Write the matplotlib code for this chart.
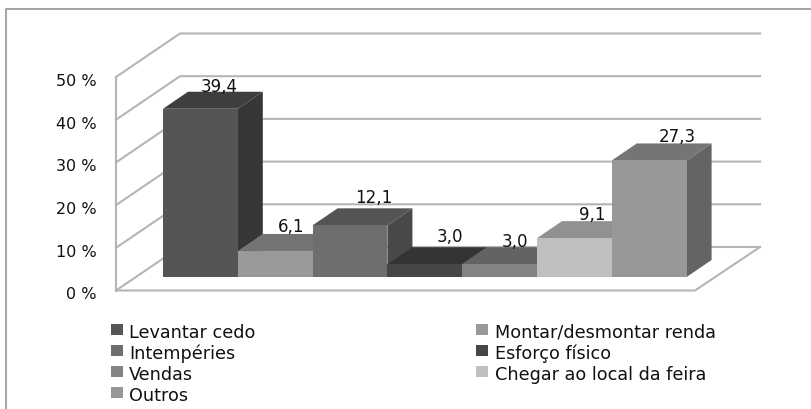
import matplotlib
matplotlib.use("Agg")
import matplotlib.pyplot as plt
from matplotlib.patches import Polygon, Rectangle

W, H = 812, 410

categories = ["Levantar cedo", "Montar/desmontar renda", "Intempéries", "Esforço físico",
              "Vendas", "Chegar ao local da feira", "Outros"]
values = [39.4, 6.1, 12.1, 3.0, 3.0, 9.1, 27.3]
value_labels = ["39,4", "6,1", "12,1", "3,0", "3,0", "9,1", "27,3"]
ticks = [0, 10, 20, 30, 40, 50]
tick_labels = ["0 %", "10 %", "20 %", "30 %", "40 %", "50 %"]

front = ["#555555", "#999999", "#6e6e6e", "#464646", "#838383", "#bfbfbf", "#989898"]
top = ["#3e3e3e", "#747474", "#545454", "#343434", "#636363", "#919191", "#757575"]
side = ["#373737", "#686868", "#494949", "#2e2e2e", "#595959", "#828282", "#646464"]

# deslocamento dos rotulos em pixels, a partir da barra
label_dx = [56, 53, 61, 63, 53, 55, 66]
label_dy = [6, 8, 11, 11, 6, 7, 7]

GRID = "#b5b5b5"
TXT = "#111111"

# eixos: x = indice da barra, y = valor em %
X0, BAR_W = 163, 74.8
Y0, PX_PER = 278, 4.27

fig = plt.figure(figsize=(W / 100, H / 100), dpi=100)
ax = fig.add_axes([0, 0, 1, 1])
ax.set_xlim(-X0 / BAR_W, (W - X0) / BAR_W)
ax.set_ylim((Y0 - H) / PX_PER, Y0 / PX_PER)
ax.axis("off")

# profundidade das barras e do piso, em unidades dos dados
dx, dy = 25 / BAR_W, 17 / PX_PER
wx0, wx1 = (116 - X0) / BAR_W, (695 - X0) / BAR_W
bx0, bx1 = (180 - X0) / BAR_W, (760 - X0) / BAR_W
f0, b0 = (Y0 - 291.5) / PX_PER, (Y0 - 248) / PX_PER

# moldura
ax.add_patch(Rectangle(((5.5 - X0) / BAR_W, (Y0 - 430) / PX_PER), (W + 40) / BAR_W, (430 - 9.5) / PX_PER,
                       fill=False, ec="#8c8c8c", lw=1.1))

# paredes e grade
for t in ticks:
    ax.plot([wx0, bx0, bx1], [f0 + t, b0 + t, b0 + t], color=GRID, lw=1.5, zorder=1, solid_joinstyle="miter")
ax.plot([wx0, wx0], [f0, f0 + 50], color=GRID, lw=1.5, zorder=1)
ax.plot([bx1, wx1, wx0], [b0, f0, f0], color=GRID, lw=1.5, zorder=1, solid_joinstyle="miter")

# barras 3D
for i, v in enumerate(values):
    z = 3 + i * 0.01
    ax.add_patch(Polygon([(i + 1, 0), (i + 1 + dx, dy), (i + 1 + dx, v + dy), (i + 1, v)],
                         fc=side[i], ec="none", zorder=z))
    ax.add_patch(Polygon([(i, v), (i + dx, v + dy), (i + 1 + dx, v + dy), (i + 1, v)],
                         fc=top[i], ec="none", zorder=z))
    ax.add_patch(Rectangle((i, 0), 1, v, fc=front[i], ec="none", zorder=z + 0.005))
    ax.text(i + label_dx[i] / BAR_W, v + dy + label_dy[i] / PX_PER, value_labels[i], ha="center", va="center",
            fontsize=12, family="DejaVu Sans", color=TXT, zorder=5)

for t, lab in zip(ticks, tick_labels):
    ax.text((97 - X0) / BAR_W, f0 + t - 3.5 / PX_PER, lab, ha="right", va="center", fontsize=11.5,
            family="DejaVu Sans", color=TXT)

# legenda em duas colunas
for k, cat in enumerate(categories):
    col, row = (k % 2, k // 2)
    px = 111 + col * 365
    py = 330.5 + row * 21.1
    ax.add_patch(Rectangle(((px - X0) / BAR_W, (Y0 - py - 5.5) / PX_PER), 12 / BAR_W, 11 / PX_PER,
                           fc=front[k], ec="none"))
    ax.text((px + (18 if col == 0 else 19) - X0) / BAR_W, (Y0 - py - 2.5) / PX_PER, cat, ha="left", va="center",
            fontsize=12.7, family="DejaVu Sans", color=TXT)

fig.savefig("out.png", dpi=100)
